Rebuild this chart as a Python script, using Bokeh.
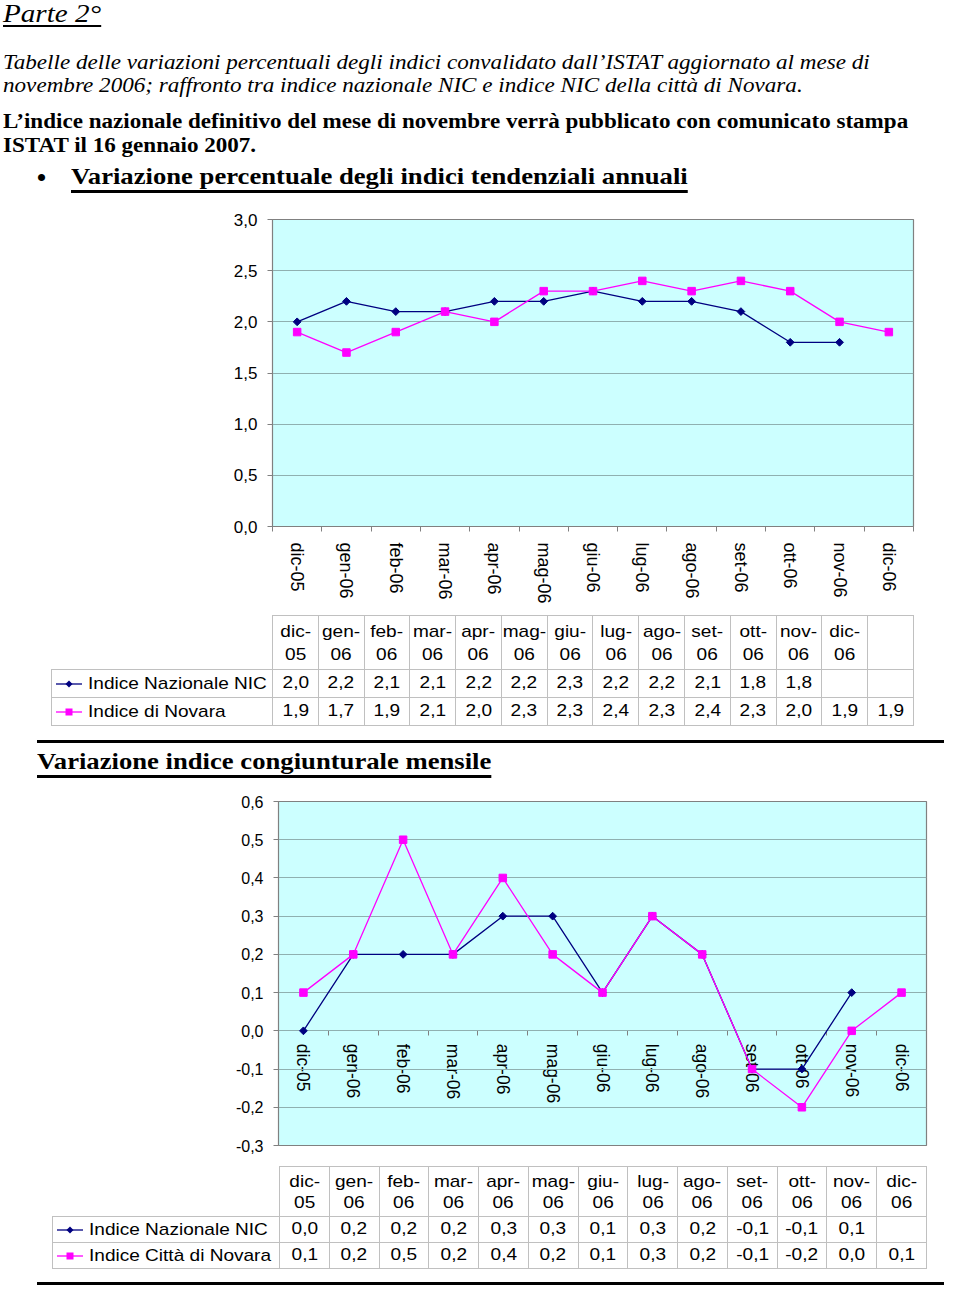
import math
from bokeh.plotting import figure
from bokeh.models import (Range1d, FactorRange, LinearAxis, FixedTicker,
                          CustomJSTickFormatter, Div)
from bokeh.layouts import column, row
from bokeh.embed import file_html
from bokeh.resources import INLINE

# ---------------- data ----------------
months = ["dic-05", "gen-06", "feb-06", "mar-06", "apr-06", "mag-06", "giu-06",
          "lug-06", "ago-06", "set-06", "ott-06", "nov-06", "dic-06"]

annual_nic = [2.0, 2.2, 2.1, 2.1, 2.2, 2.2, 2.3, 2.2, 2.2, 2.1, 1.8, 1.8]
annual_novara = [1.9, 1.7, 1.9, 2.1, 2.0, 2.3, 2.3, 2.4, 2.3, 2.4, 2.3, 2.0, 1.9]
annual_novara_table_extra = [1.9]          # extra 14th column shown in the table only
annual_ticks = [0.0, 0.5, 1.0, 1.5, 2.0, 2.5, 3.0]

monthly_nic = [0.0, 0.2, 0.2, 0.2, 0.3, 0.3, 0.1, 0.3, 0.2, -0.1, -0.1, 0.1]
monthly_novara = [0.1, 0.2, 0.5, 0.2, 0.4, 0.2, 0.1, 0.3, 0.2, -0.1, -0.2, 0.0, 0.1]
monthly_ticks = [-0.3, -0.2, -0.1, 0.0, 0.1, 0.2, 0.3, 0.4, 0.5, 0.6]

label_nic = "Indice Nazionale NIC"
label_novara_annual = "Indice di Novara"
label_novara_monthly = "Indice Città di Novara"

title_part = "Parte 2°"
intro_italic = ["Tabelle delle variazioni percentuali degli indici convalidato dall’ISTAT aggiornato al mese di",
                "novembre 2006; raffronto tra indice nazionale NIC e indice NIC della città di Novara."]
intro_bold = ["L’indice nazionale definitivo del mese di novembre verrà pubblicato con comunicato stampa",
              "ISTAT il 16 gennaio 2007."]
heading_annual = "Variazione percentuale degli indici tendenziali annuali"
heading_monthly = "Variazione indice congiunturale mensile"

# ---------------- styles ----------------
NIC_COLOR = "#000080"
NOV_COLOR = "#FF00FF"
PLOT_BG = "#CCFFFF"
GRID = "#8FB0B0"
AXIS = "#808080"
SERIF = "'Liberation Serif', 'Times New Roman', serif"
SANS = "'Liberation Sans', Arial, sans-serif"
SX = 1.12
W = 944


def fmt(v):
    return f"{v:.1f}".replace(".", ",")


def text_line(txt, left, top, size, italic=False, bold=False, underline=None, scale=SX):
    st = ["position:absolute", f"left:{left}px", f"top:{top}px", f"font-family:{SERIF}",
          f"font-size:{size}px", "line-height:1", "white-space:nowrap", "color:#000",
          f"font-style:{'italic' if italic else 'normal'}",
          f"font-weight:{'bold' if bold else 'normal'}",
          f"transform:scaleX({scale})", "transform-origin:0 0"]
    if underline:
        thick, off = underline
        st += ["text-decoration:underline", f"text-decoration-thickness:{thick}px",
               f"text-underline-offset:{off}px"]
    return f'<div style="{";".join(st)}">{txt}</div>'


def rule(left, top, width, h=3):
    return (f'<div style="position:absolute;left:{left}px;top:{top}px;width:{width}px;'
            f'height:{h}px;background:#000"></div>')


def box(inner, h):
    return f'<div style="position:relative;width:{W}px;height:{h}px;overflow:visible">{inner}</div>'


def key_svg(color, marker):
    if marker == "diamond":
        m = f'<rect x="10.5" y="3.5" width="5" height="5" fill="{color}" transform="rotate(45 13 6)"/>'
    else:
        m = f'<rect x="9.5" y="2.5" width="7" height="7" fill="{color}"/>'
    return (f'<svg width="26" height="12" style="display:inline-block;vertical-align:middle">'
            f'<line x1="0" y1="6" x2="26" y2="6" stroke="{color}" stroke-width="1.3"/>{m}</svg>')


def scaled(txt):
    return (f'<span style="display:inline-block;transform:scaleX({SX});'
            f'transform-origin:50% 50%">{txt}</span>')


def table_html(left, top, label_w, col_w, ncols, header_h, row_h, line_h, rows):
    bd = "1px solid #c0c0c0"
    html = (f'<table style="position:absolute;left:{left}px;top:{top}px;border-collapse:collapse;'
            f'table-layout:fixed;width:{label_w + col_w * ncols:.2f}px;font-family:{SANS};'
            f'font-size:17px;color:#000">')
    html += f'<colgroup><col style="width:{label_w}px">'
    html += "".join(f'<col style="width:{col_w:.3f}px">' for _ in range(ncols)) + '</colgroup>'
    html += f'<tr style="height:{header_h}px"><td style="border:none;padding:0"></td>'
    for i in range(ncols):
        txt = ""
        if i < len(months):
            a, b = months[i].split("-")
            txt = scaled(f"{a}-<br>{b}")
        html += (f'<td style="border:{bd};padding:0;text-align:center;vertical-align:middle;'
                 f'line-height:{line_h}px">{txt}</td>')
    html += '</tr>'
    for label, color, marker, vals in rows:
        html += (f'<tr style="height:{row_h}px"><td style="border:{bd};padding:0 0 0 4px;'
                 f'white-space:nowrap;vertical-align:middle;overflow:hidden">{key_svg(color, marker)}'
                 f'<span style="display:inline-block;margin-left:6px;transform:scaleX({SX});'
                 f'transform-origin:0 50%;vertical-align:middle">{label}</span></td>')
        for i in range(ncols):
            txt = scaled(fmt(vals[i])) if i < len(vals) else ""
            html += (f'<td style="border:{bd};padding:0;text-align:center;'
                     f'vertical-align:middle">{txt}</td>')
        html += '</tr>'
    html += '</table>'
    return html


def make_chart(nic, nov, ticks, height, bl, br, bt, bb, ylab, xlab, at_zero, xstand):
    p = figure(width=W, height=height, x_range=FactorRange(*months),
               y_range=Range1d(ticks[0], ticks[-1]),
               output_backend="svg", toolbar_location=None, x_axis_location=None,
               min_border_left=bl, min_border_right=br, min_border_top=bt, min_border_bottom=bb,
               background_fill_color=PLOT_BG, border_fill_color="white",
               outline_line_color=AXIS, outline_line_width=1.2)
    p.xgrid.visible = False
    p.yaxis.ticker = FixedTicker(ticks=ticks)
    p.yaxis.formatter = CustomJSTickFormatter(code="return tick.toFixed(1).replace('.', ',');")
    p.yaxis.major_label_text_font = "Liberation Sans"
    p.yaxis.major_label_text_font_size = f"{ylab}px"
    p.yaxis.major_label_text_color = "black"
    p.yaxis.axis_line_color = AXIS
    p.yaxis.major_tick_line_color = AXIS
    p.yaxis.major_tick_out = 5
    p.yaxis.major_tick_in = 0
    p.yaxis.minor_tick_line_color = None
    p.yaxis.major_label_standoff = 10
    p.ygrid.grid_line_color = GRID
    p.ygrid.grid_line_width = 1

    n = len(months)
    centers = [i + 0.5 for i in range(n)]
    bounds = [float(i) for i in range(n + 1)]
    xa = LinearAxis(ticker=FixedTicker(ticks=centers, minor_ticks=bounds),
                    formatter=CustomJSTickFormatter(args=dict(labels=months),
                                                    code="return labels[Math.floor(tick)];"),
                    major_label_orientation="vertical",
                    major_tick_line_color=None, major_tick_out=0, major_tick_in=0,
                    minor_tick_line_color=AXIS, minor_tick_out=5, minor_tick_in=0,
                    axis_line_color=AXIS, major_label_standoff=xstand,
                    major_label_text_font="Liberation Sans",
                    major_label_text_font_size=f"{xlab}px",
                    major_label_text_color="black")
    if at_zero:
        xa.fixed_location = 0
        xa.level = "underlay"
    p.add_layout(xa, "below")

    xn = months[:len(nic)]
    xv = months[:len(nov)]
    p.line(xn, nic, line_color=NIC_COLOR, line_width=1.3)
    p.scatter(xn, nic, marker="square", angle=math.pi / 4, size=5.5,
              fill_color=NIC_COLOR, line_color=NIC_COLOR)
    p.line(xv, nov, line_color=NOV_COLOR, line_width=1.3)
    p.scatter(xv, nov, marker="square", size=7.5, fill_color=NOV_COLOR, line_color=NOV_COLOR)
    return p


# ---------------- header (0..207) ----------------
hdr = ""
hdr += text_line(title_part, 3, 0.5, 26, italic=True, underline=(1.5, 3))
hdr += text_line(intro_italic[0], 3, 51.7, 20.3, italic=True, scale=1.14)
hdr += text_line(intro_italic[1], 3, 75, 20.3, italic=True, scale=1.14)
hdr += text_line(intro_bold[0], 3, 110.5, 20.5, bold=True, scale=1.125)
hdr += text_line(intro_bold[1], 3, 134.8, 20.5, bold=True, scale=1.125)
hdr += text_line("•", 36.3, 162.9, 30, scale=1)
hdr += text_line(heading_annual, 71, 165.4, 23.8, bold=True, underline=(2.5, 6))
header_div = Div(text=box(hdr, 207), width=W, height=207, margin=0)

# ---------------- chart 1 (207..607) ----------------
fig1 = make_chart(annual_nic, annual_novara, annual_ticks, 400, 272, 31, 12, 81, 17, 18, False, 11)

# ---------------- table 1 (607..733) ----------------
t1 = table_html(51, 8, 221, 641 / 14, 14, 54, 28, 23,
                [(label_nic, NIC_COLOR, "diamond", annual_nic),
                 (label_novara_annual, NOV_COLOR, "square", annual_novara + annual_novara_table_extra)])
table1_div = Div(text=box(t1, 126), width=W, height=126, margin=0)

# ---------------- rule + heading (733..789) ----------------
mid = rule(37, 7, 907) + text_line(heading_monthly, 37, 17.1, 23.8, bold=True, underline=(2.5, 6))
mid_div = Div(text=box(mid, 56), width=W, height=56, margin=0)

# ---------------- chart 2 (789..1155) ----------------
fig2 = make_chart(monthly_nic, monthly_novara, monthly_ticks, 366, 278, 18, 12, 10, 16, 17.5, True, 8)

# ---------------- table 2 (1155..1285) ----------------
t2 = table_html(52, 11, 227, 647 / 13, 13, 50, 26, 21,
                [(label_nic, NIC_COLOR, "diamond", monthly_nic),
                 (label_novara_monthly, NOV_COLOR, "square", monthly_novara)])
t2 += rule(37, 127, 907)
table2_div = Div(text=box(t2, 130), width=W, height=130, margin=0)

layout = column(header_div, row(fig1), table1_div, mid_div, row(fig2), table2_div, spacing=0)

with open("out.html", "w") as f:
    f.write(file_html(layout, INLINE, title="Parte 2"))
